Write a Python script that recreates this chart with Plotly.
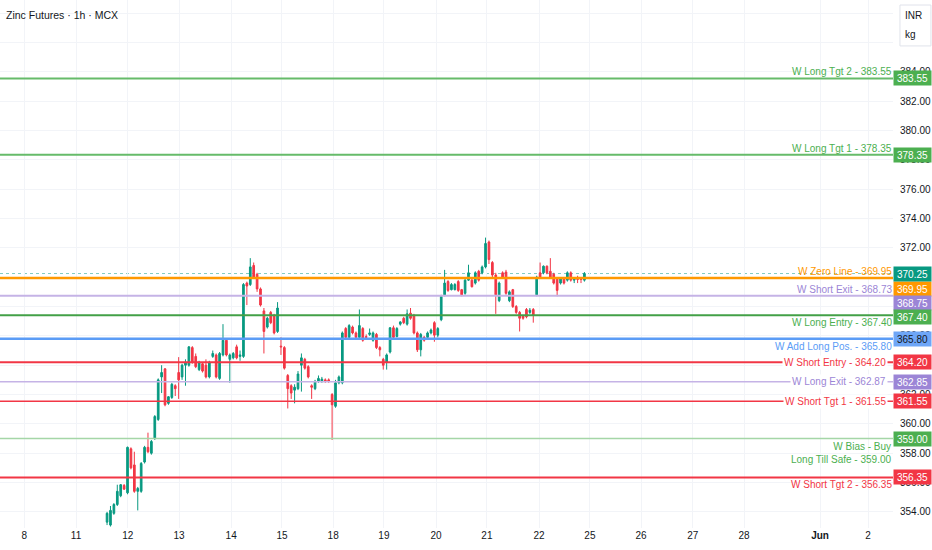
import plotly.graph_objects as go

# ---------------- data ----------------
opens = [353.3, 353.1, 353.9, 354.5, 355.1, 355.8, 355.3, 358.3, 357.2, 355.4,
         355.4, 357.4, 358.4, 358.0, 359.0, 360.3, 363.2, 363.75, 361.4, 361.8,
         362.6, 363.5, 363.2, 364.0, 364.0, 365.2, 364.6, 363.7, 364.1, 364.0,
         363.2, 364.6, 364.7, 363.1, 364.7, 365.7, 364.4, 364.5, 365.25, 364.6,
         364.6, 369.6, 369.5, 370.8, 370.2, 369.2, 367.7, 366.6, 367.6, 367.4,
         366.3, 365.3, 365.2, 363.3, 362.6, 362.3, 362.4, 364.0, 364.4, 363.9,
         362.6, 362.4, 362.9, 362.9, 363.0, 363.0, 362.0, 361.2, 362.8, 362.8,
         366.5, 365.9, 366.6, 366.2, 365.9, 366.5, 365.95, 366.1, 365.7, 366.1,
         365.2, 364.4, 364.2, 364.9, 366.55, 365.95, 366.8, 367.2, 366.8, 367.55,
         367.4, 366.2, 365.05, 365.9, 365.9, 366.2, 366.9, 366.05, 367.1, 368.8,
         369.7, 369.15, 369.15, 369.7, 369.15, 368.9, 369.8, 369.8, 369.6, 370.4,
         370.3, 370.7, 372.4, 371.0, 370.15, 368.4, 370.3, 370.35, 368.4, 369.15,
         368.0, 367.6, 367.35, 367.8, 367.6, 367.8, 368.8, 370.3, 370.3, 370.75,
         370.4, 370.2, 369.9, 369.6, 369.9, 369.8, 370.3, 369.8, 369.95, 369.9, 369.8]
highs = [354.0, 354.4, 354.6, 355.85, 355.9, 355.9, 358.45, 358.4, 358.1, 355.7,
         357.4, 358.5, 359.4, 358.9, 360.6, 363.1, 364.0, 363.8, 361.9, 362.8,
         362.7, 364.55, 364.1, 364.4, 365.3, 365.3, 364.8, 364.3, 364.2, 364.4,
         364.3, 365.0, 364.8, 364.9, 366.8, 365.8, 364.8, 364.9, 365.4, 365.0,
         369.6, 369.7, 371.3, 371.0, 370.3, 369.3, 367.9, 367.3, 367.7, 367.5,
         368.3, 365.9, 365.3, 363.4, 362.7, 362.7, 363.6, 364.8, 364.5, 364.0,
         362.7, 363.0, 363.3, 363.2, 363.1, 363.1, 362.1, 363.0, 363.3, 366.3,
         366.6, 366.8, 366.7, 366.3, 367.8, 366.6, 366.1, 366.5, 366.3, 366.2,
         365.3, 364.5, 364.8, 366.6, 366.7, 366.6, 367.0, 367.3, 367.8, 367.9,
         367.5, 366.3, 366.2, 366.0, 366.3, 366.5, 367.0, 366.6, 368.8, 370.5,
         369.8, 369.6, 369.6, 369.8, 369.2, 369.9, 370.85, 370.0, 370.4, 370.5,
         370.8, 372.7, 372.5, 371.1, 370.3, 369.7, 370.4, 370.5, 369.1, 369.2,
         368.1, 367.7, 367.4, 367.9, 367.9, 367.9, 370.1, 371.0, 370.8, 370.8,
         371.3, 370.3, 370.0, 370.0, 370.0, 370.4, 370.4, 370.0, 370.1, 370.0, 370.35]
lows = [353.1, 353.0, 353.8, 354.4, 355.0, 355.5, 355.2, 356.9, 355.3, 354.1,
        355.3, 357.3, 358.0, 357.9, 358.9, 360.2, 362.1, 361.2, 361.3, 361.7,
        361.9, 361.7, 363.0, 362.6, 363.9, 364.1, 363.8, 363.6, 363.5, 363.1,
        363.1, 364.5, 363.1, 363.0, 364.6, 364.6, 362.8, 364.4, 364.4, 364.3,
        364.5, 368.1, 369.4, 369.9, 369.0, 368.0, 364.8, 366.5, 366.8, 366.1,
        366.2, 364.7, 363.7, 361.05, 361.7, 361.4, 362.3, 362.2, 363.7, 363.1,
        361.7, 362.3, 362.8, 362.8, 362.8, 362.8, 358.9, 361.1, 362.7, 362.7,
        365.8, 365.8, 366.1, 365.8, 365.8, 365.6, 365.8, 366.0, 365.6, 365.1,
        364.6, 363.7, 363.7, 364.8, 365.8, 365.9, 366.7, 366.8, 366.7, 367.1,
        366.1, 364.9, 364.6, 365.6, 365.8, 366.1, 365.6, 365.9, 367.0, 368.7,
        369.0, 369.1, 369.1, 369.0, 368.7, 368.8, 369.75, 369.3, 369.5, 369.7,
        370.2, 370.6, 370.9, 370.0, 367.5, 368.3, 369.9, 368.8, 368.3, 367.9,
        367.5, 366.3, 367.1, 367.2, 367.5, 366.9, 368.7, 369.9, 370.2, 370.2,
        369.9, 369.5, 368.7, 369.5, 369.5, 369.7, 369.7, 369.6, 369.6, 369.6, 369.7]
closes = [353.9, 354.1, 354.5, 355.4, 355.85, 355.55, 358.4, 357.0, 355.4, 355.6,
          357.3, 358.4, 358.1, 358.8, 360.5, 363.0, 363.5, 361.3, 361.85, 362.7,
          362.4, 363.0, 364.0, 364.2, 365.25, 364.2, 363.9, 364.2, 363.6, 363.2,
          364.2, 364.8, 363.2, 364.8, 365.7, 364.7, 364.7, 364.8, 364.5, 364.7,
          369.5, 369.4, 370.7, 370.0, 369.2, 368.1, 366.3, 367.2, 366.9, 366.2,
          367.9, 365.25, 363.8, 362.4, 362.1, 362.5, 363.4, 364.5, 363.8, 363.2,
          362.5, 362.9, 363.1, 363.05, 362.9, 362.9, 361.3, 362.8, 363.2, 366.2,
          365.9, 366.7, 366.2, 365.9, 366.7, 365.7, 365.9, 366.2, 366.2, 365.2,
          365.05, 364.0, 364.7, 366.55, 365.9, 366.5, 366.95, 366.9, 367.5, 367.2,
          366.2, 365.05, 366.1, 365.7, 366.2, 366.4, 366.05, 366.5, 368.7, 369.6,
          369.1, 369.5, 369.5, 369.1, 368.8, 369.8, 370.3, 369.35, 370.3, 369.8,
          370.7, 372.3, 371.2, 370.15, 368.8, 369.6, 370.0, 368.9, 369.0, 368.0,
          367.6, 367.2, 367.2, 367.3, 367.75, 367.4, 370.0, 370.0, 370.75, 370.3,
          370.0, 369.6, 369.1, 369.9, 369.6, 370.3, 369.8, 369.9, 369.85, 369.85, 370.25]
bar_index = list(range(len(closes)))

# day tick labels, positioned in bar units
tick_labels = ["8", "11", "12", "13", "14", "15", "18", "19", "20", "21", "22",
               "25", "26", "27", "28", "<b>Jun</b>", "2"]
tick_bars = [-24.3, -9.1, 6.1, 21.1, 36.4, 51.3, 66.3, 81.2, 96.5, 111.4, 126.7,
             141.6, 156.6, 171.8, 186.8, 209.1, 223.2]

# weekly levels
level_names = ["W Long Tgt 2", "W Long Tgt 1", "W Zero Line", "W Short Exit",
               "W Long Entry", "W Add Long Pos.", "W Short Entry", "W Long Exit",
               "W Short Tgt 1", "W Bias - Buy<br>Long Till Safe", "W Short Tgt 2"]
level_values = [383.55, 378.35, 369.95, 368.73, 367.40, 365.80, 364.20, 362.87,
                361.55, 359.00, 356.35]
level_box_text = ["383.55", "378.35", "369.95", "368.75", "367.40", "365.80",
                  "364.20", "362.85", "361.55", "359.00", "356.35"]
last_price = 370.25

# ---------------- styles ----------------
GREEN_C = "#089981"
RED_C = "#f23645"
line_colors = ["#66bb6a", "#66bb6a", "#ff9800", "#c5b3e6", "#43a047", "#5b9cf6",
               "#f23645", "#c5b3e6", "#f23645", "#a5d6a7", "#f23645"]
text_colors = ["#4caf50", "#4caf50", "#ff9800", "#9c85d6", "#4caf50", "#5b9cf6",
               "#f23645", "#9c85d6", "#f23645", "#4caf50", "#f23645"]
box_colors = ["#4caf50", "#4caf50", "#ff9800", "#9c85d6", "#4caf50", "#6ea6f7",
              "#f23645", "#9c85d6", "#f23645", "#4caf50", "#f23645"]
box_text_colors = ["white"] * 5 + ["#131722"] + ["white"] * 5
line_widths = [2, 2, 2.5, 2, 2, 2.5, 2, 1.5, 1.5, 1.5, 2]
label_place = ["above", "above", "above", "above", "below", "below", "on", "on",
               "on", "below", "below"]
box_shift = [0, 0, -11, -7, -1.5, 0, 0, 0, 0, 0, 0]

FONT = "Liberation Sans, Arial, sans-serif"
FS = 10

fig = go.Figure()
fig.add_trace(go.Candlestick(
    x=bar_index, open=opens, high=highs, low=lows, close=closes,
    increasing=dict(line=dict(color=GREEN_C, width=1), fillcolor=GREEN_C),
    decreasing=dict(line=dict(color=RED_C, width=1), fillcolor=RED_C),
    whiskerwidth=0, showlegend=False, hoverinfo="skip"))

shapes = []
annotations = []
for name, val, box, lc, tc, bc, btc, lw, place, bs in zip(
        level_names, level_values, level_box_text, line_colors, text_colors,
        box_colors, box_text_colors, line_widths, label_place, box_shift):
    shapes.append(dict(type="line", xref="paper", x0=0, x1=1, yref="y", y0=val, y1=val,
                       line=dict(color=lc, width=lw), layer="above"))
    label = f"{name} - {val:.2f}"
    common = dict(xref="paper", x=1, xanchor="right", yref="y", y=val, text=label,
                  showarrow=False, align="right",
                  font=dict(color=tc, size=FS, family=FONT))
    if place == "above":
        annotations.append(dict(common, yanchor="bottom", yshift=0, borderpad=0))
    elif place == "below":
        annotations.append(dict(common, yanchor="top", yshift=-1, borderpad=0))
    else:
        annotations.append(dict(common, xshift=-5, yanchor="middle",
                                bgcolor="white", borderpad=1))
    annotations.append(dict(xref="paper", x=1, xanchor="left", xshift=0, yref="y", y=val,
                            yanchor="middle", yshift=bs, text=box, showarrow=False,
                            bgcolor=bc, width=37, height=14, borderpad=0,
                            font=dict(color=btc, size=FS, family=FONT)))

# current price
shapes.append(dict(type="line", xref="paper", x0=0, x1=1, yref="y", y0=last_price, y1=last_price,
                   line=dict(color="#80cbc4", width=1, dash="dot"), layer="below"))
annotations.append(dict(xref="paper", x=1, xanchor="left", yref="y", y=last_price,
                        yanchor="middle", text=f"{last_price:.2f}", showarrow=False,
                        bgcolor=GREEN_C, width=37, height=14, borderpad=0,
                        font=dict(color="white", size=FS, family=FONT)))

# title
annotations.append(dict(xref="paper", x=0, xanchor="left", xshift=4, yref="paper", y=1,
                        yanchor="middle", yshift=-15, text="Zinc Futures · 1h · MCX",
                        showarrow=False, font=dict(color="#131722", size=10.5, family=FONT)))
# currency / unit box
shapes.append(dict(type="rect", xref="paper", x0=1.0078, x1=1.0425, yref="paper",
                   y0=0.913, y1=0.9905, line=dict(color="#e0e3eb", width=1),
                   fillcolor="white", layer="above"))
annotations.append(dict(xref="paper", x=1.0115, xanchor="left", yref="paper", y=1, yshift=-15,
                        yanchor="middle", text="INR", showarrow=False,
                        font=dict(color="#131722", size=10, family=FONT)))
annotations.append(dict(xref="paper", x=1.0115, xanchor="left", yref="paper", y=1, yshift=-34,
                        yanchor="middle", text="kg", showarrow=False,
                        font=dict(color="#131722", size=10, family=FONT)))

fig.update_layout(
    width=932, height=550,
    margin=dict(l=0, r=39, t=0, b=22),
    paper_bgcolor="white", plot_bgcolor="white",
    shapes=shapes, annotations=annotations,
    font=dict(family=FONT, color="#131722", size=FS),
    xaxis=dict(range=[-31.4, 230.5], tickvals=tick_bars, ticktext=tick_labels,
               showgrid=True, gridcolor="#f2f4f8", gridwidth=1, zeroline=False,
               showline=False, ticks="", rangeslider=dict(visible=False),
               tickfont=dict(size=FS, color="#131722", family=FONT), fixedrange=True),
    yaxis=dict(side="right", range=[352.9, 388.9], dtick=2, tick0=0, tickformat=".2f",
               showgrid=True, gridcolor="#f2f4f8", gridwidth=1, zeroline=False,
               showline=False, ticks="", ticklabelstandoff=6,
               tickfont=dict(size=FS, color="#131722", family=FONT), fixedrange=True),
    hovermode=False,
)

fig.write_html("out.html", config={"displayModeBar": False},
               post_script="document.body.style.margin='0';document.body.style.overflow='hidden';")
